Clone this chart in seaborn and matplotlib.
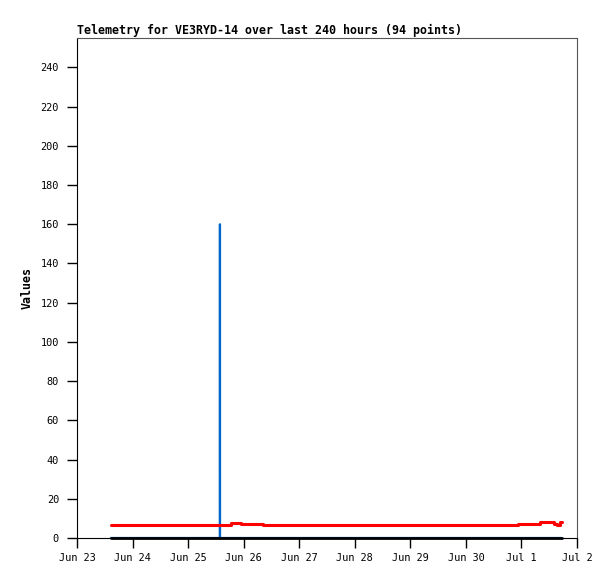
import pandas as pd
import matplotlib
matplotlib.use('Agg')
import matplotlib.pyplot as plt
import matplotlib.dates as mdates
import seaborn as sns

# Seri merah (langkah), waktu perubahan nilai
red_times = ['2025-06-23 14:40', '2025-06-25 18:20', '2025-06-25 22:50', '2025-06-26 08:20',
             '2025-06-30 22:30', '2025-07-01 08:00', '2025-07-01 14:00', '2025-07-01 15:30',
             '2025-07-01 16:30', '2025-07-01 17:20']
red_values = [6.8, 7.8, 7.2, 6.8, 7.3, 8.0, 7.1, 6.5, 8.0, 8.0]

# Seri biru: nol, kecuali satu lonjakan
blue_times = ['2025-06-23 14:40', '2025-06-25 13:45', '2025-06-25 13:45', '2025-06-25 13:46',
              '2025-07-01 17:20']
blue_values = [0, 0, 160, 0, 0]

# Seri hitam: nol sepanjang waktu
black_times = ['2025-06-23 14:40', '2025-07-01 17:20']
black_values = [0, 0]

y_ticks = list(range(0, 241, 20))

sns.set_style('white')
plt.rcParams['font.family'] = ['DejaVu Sans Mono']
plt.rcParams['text.color'] = 'black'
plt.rcParams['axes.labelcolor'] = 'black'
plt.rcParams['xtick.color'] = 'black'
plt.rcParams['ytick.color'] = 'black'

fig = plt.figure(figsize=(6.15, 5.79), dpi=100)
ax = fig.add_axes([77 / 615, 1 - 538 / 579, 500 / 615, 500 / 579])

red = pd.DataFrame({'t': pd.to_datetime(red_times), 'v': red_values})
blue = pd.DataFrame({'t': pd.to_datetime(blue_times), 'v': blue_values})
black = pd.DataFrame({'t': pd.to_datetime(black_times), 'v': black_values})

sns.lineplot(data=blue, x='t', y='v', ax=ax, color='#0066cc', lw=1.6, estimator=None, sort=False)
sns.lineplot(data=red, x='t', y='v', ax=ax, color='#ff0000', lw=2.2, drawstyle='steps-post',
             estimator=None)
sns.lineplot(data=black, x='t', y='v', ax=ax, color='black', lw=2, estimator=None, clip_on=False,
             zorder=5)

ax.set_xlim(pd.Timestamp('2025-06-23'), pd.Timestamp('2025-07-02'))
ax.set_ylim(0, 255)
ax.set_yticks(y_ticks)
ax.xaxis.set_major_locator(mdates.DayLocator())
ax.xaxis.set_major_formatter(mdates.DateFormatter('%b %-d'))

ax.tick_params(axis='both', direction='out', length=7, width=1, color='black', labelsize=7.4,
               labelcolor='black', bottom=True, left=True)
ax.tick_params(axis='x', pad=4)
ax.tick_params(axis='y', pad=6)
ax.spines['left'].set_color('black')
ax.spines['bottom'].set_color('black')
ax.spines['top'].set_color('#555555')
ax.spines['right'].set_color('#555555')

ax.set_xlabel('')
ax.set_ylabel('Values', fontsize=8.4, fontweight='bold', labelpad=5, color='black')
ax.set_title('Telemetry for VE3RYD-14 over last 240 hours (94 points)', loc='left',
             fontsize=8.4, fontweight='bold', pad=3, color='black')

plt.savefig('out.png', dpi=100)
